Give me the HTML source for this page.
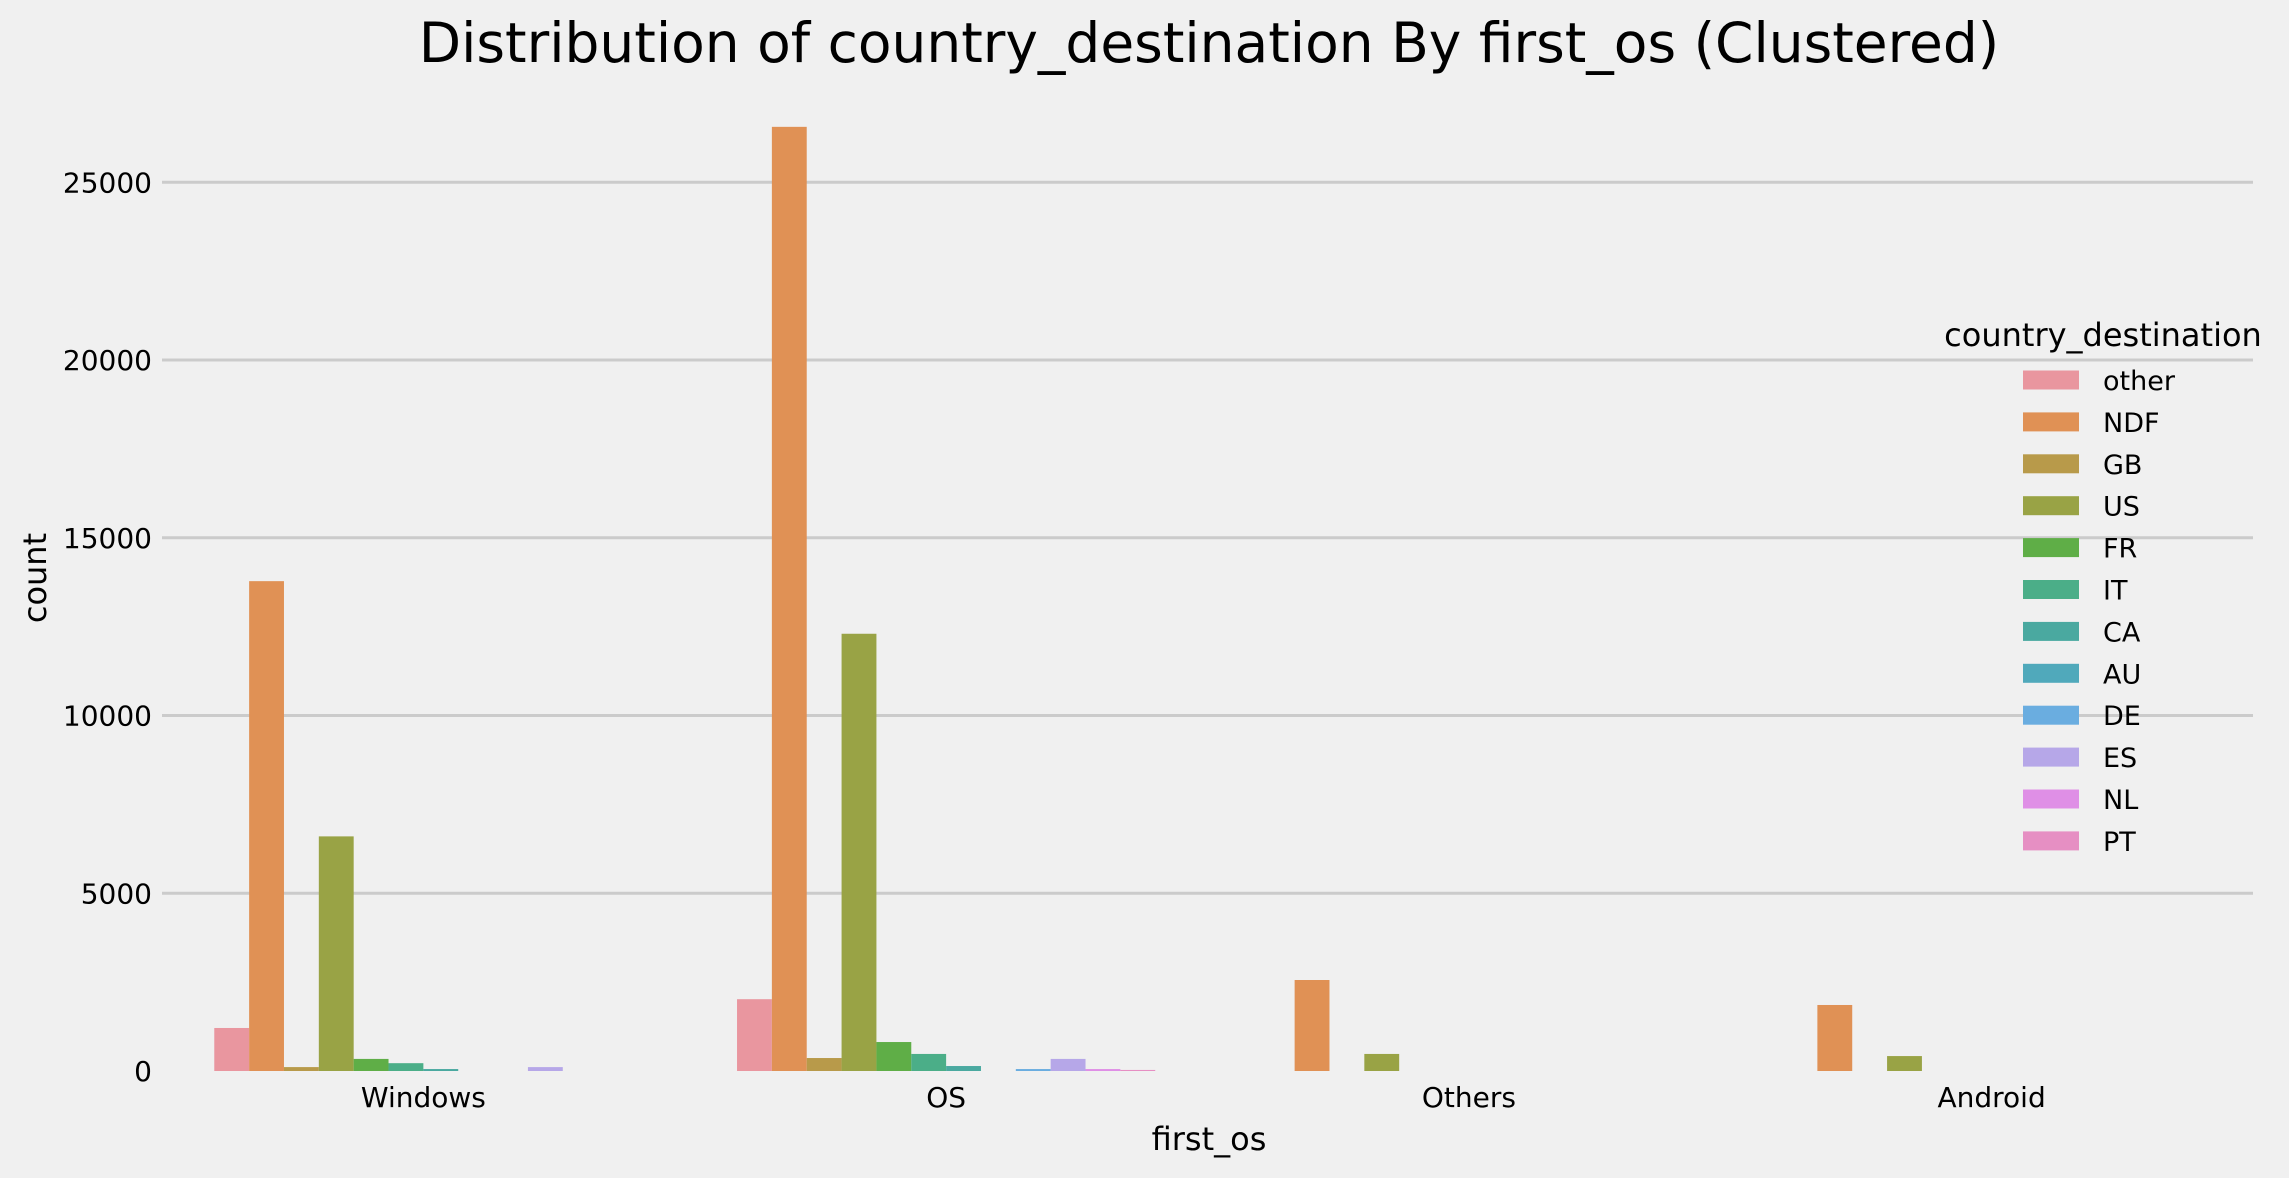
<!DOCTYPE html>
<html><head><meta charset="utf-8">
<style>
html,body{margin:0;padding:0;background:#f0f0f0;}
svg{display:block;font-family:"DejaVu Sans","Liberation Sans",sans-serif;}
</style></head>
<body>
<svg id="chart" width="2289" height="1178" viewBox="0 0 2289 1178" xmlns="http://www.w3.org/2000/svg">
<rect x="0" y="0" width="2289" height="1178" fill="#f0f0f0"/>
<text x="1209" y="62" font-size="55" text-anchor="middle" fill="#000">Distribution of country_destination By first_os (Clustered)</text>
<g id="grid"></g>
<g id="bars"></g>
<g id="yticks"></g>
<g id="xticks"></g>
<text x="1209" y="1150" font-size="32" text-anchor="middle" fill="#000">first_os</text>
<text x="0" y="0" font-size="32" text-anchor="middle" fill="#000" transform="translate(46,578) rotate(-90)">count</text>
<g id="legend">
<text x="2103" y="346" font-size="32" text-anchor="middle" fill="#000">country_destination</text>
</g>
</svg>
<script>
const categories = ["Windows", "OS", "Others", "Android"];
const hues = ["other","NDF","GB","US","FR","IT","CA","AU","DE","ES","NL","PT"];
const valWindows = [1210, 13780, 110, 6600, 340, 220, 55, 0, 0, 110, 0, 0];
const valOS = [2020, 26560, 365, 12300, 815, 480, 140, 0, 55, 340, 55, 30];
const valOthers = [0, 2560, 0, 480, 0, 0, 0, 0, 0, 0, 0, 0];
const valAndroid = [0, 1857, 0, 420, 0, 0, 0, 0, 0, 0, 0, 0];
const yTicks = [0, 5000, 10000, 15000, 20000, 25000];
const colors = ["#e9969f","#e09155","#b89a4a","#99a345","#5fae47","#4bae88","#4aa9a0","#50a9bb","#6aade0","#b6a7e8","#df8fe6","#e68fc3"];
const series = [valWindows, valOS, valOthers, valAndroid];

const NS = "http://www.w3.org/2000/svg";
const axL = 162, axR = 2253, y0 = 1071, yTop25 = 182.3;
const catW = (axR - axL) / categories.length;
const barW = catW * 0.8 / hues.length;
function yScale(v){ return y0 - v * (y0 - yTop25) / 25000; }
function xCenter(i){ return axL + catW * (i + 0.5); }
function mk(tag, attrs, parent){ const e = document.createElementNS(NS, tag); for (const k in attrs) e.setAttribute(k, attrs[k]); parent.appendChild(e); return e; }

const grid = document.getElementById('grid');
const yt = document.getElementById('yticks');
yTicks.forEach(t => {
  const y = yScale(t);
  if (t > 0) {
    const l = mk('line', {x1: axL, x2: axR, y1: y, y2: y, stroke: '#cbcbcb', 'stroke-width': 3}, grid);
    
    
  }
  const tx = mk('text', {x: 152, y: y + 10, 'font-size': 28, 'text-anchor': 'end', fill: '#000'}, yt);
  tx.textContent = t;
  
  
});

const bars = document.getElementById('bars');
const xt = document.getElementById('xticks');
categories.forEach((c, i) => {
  const start = xCenter(i) - catW * 0.4;
  series[i].forEach((v, h) => {
    if (v <= 0) return;
    const y = yScale(v);
    const r = mk('rect', {x: start + h * barW, y: y, width: barW, height: y0 - y, fill: colors[h]}, bars);
    
    
  });
  const tx = mk('text', {x: xCenter(i), y: 1107, 'font-size': 28, 'text-anchor': 'middle', fill: '#000'}, xt);
  tx.textContent = c;
  
  
});

const lg = document.getElementById('legend');
hues.forEach((h, k) => {
  const cy = 380 + k * 41.9;
  const g = mk('g', {}, lg);
  
  
  mk('rect', {x: 2023, y: cy - 9.5, width: 56, height: 19, fill: colors[k]}, g);
  const t = mk('text', {x: 2103, y: cy + 10, 'font-size': 27, fill: '#000'}, g);
  t.textContent = h;
});
</script>
</body></html>
